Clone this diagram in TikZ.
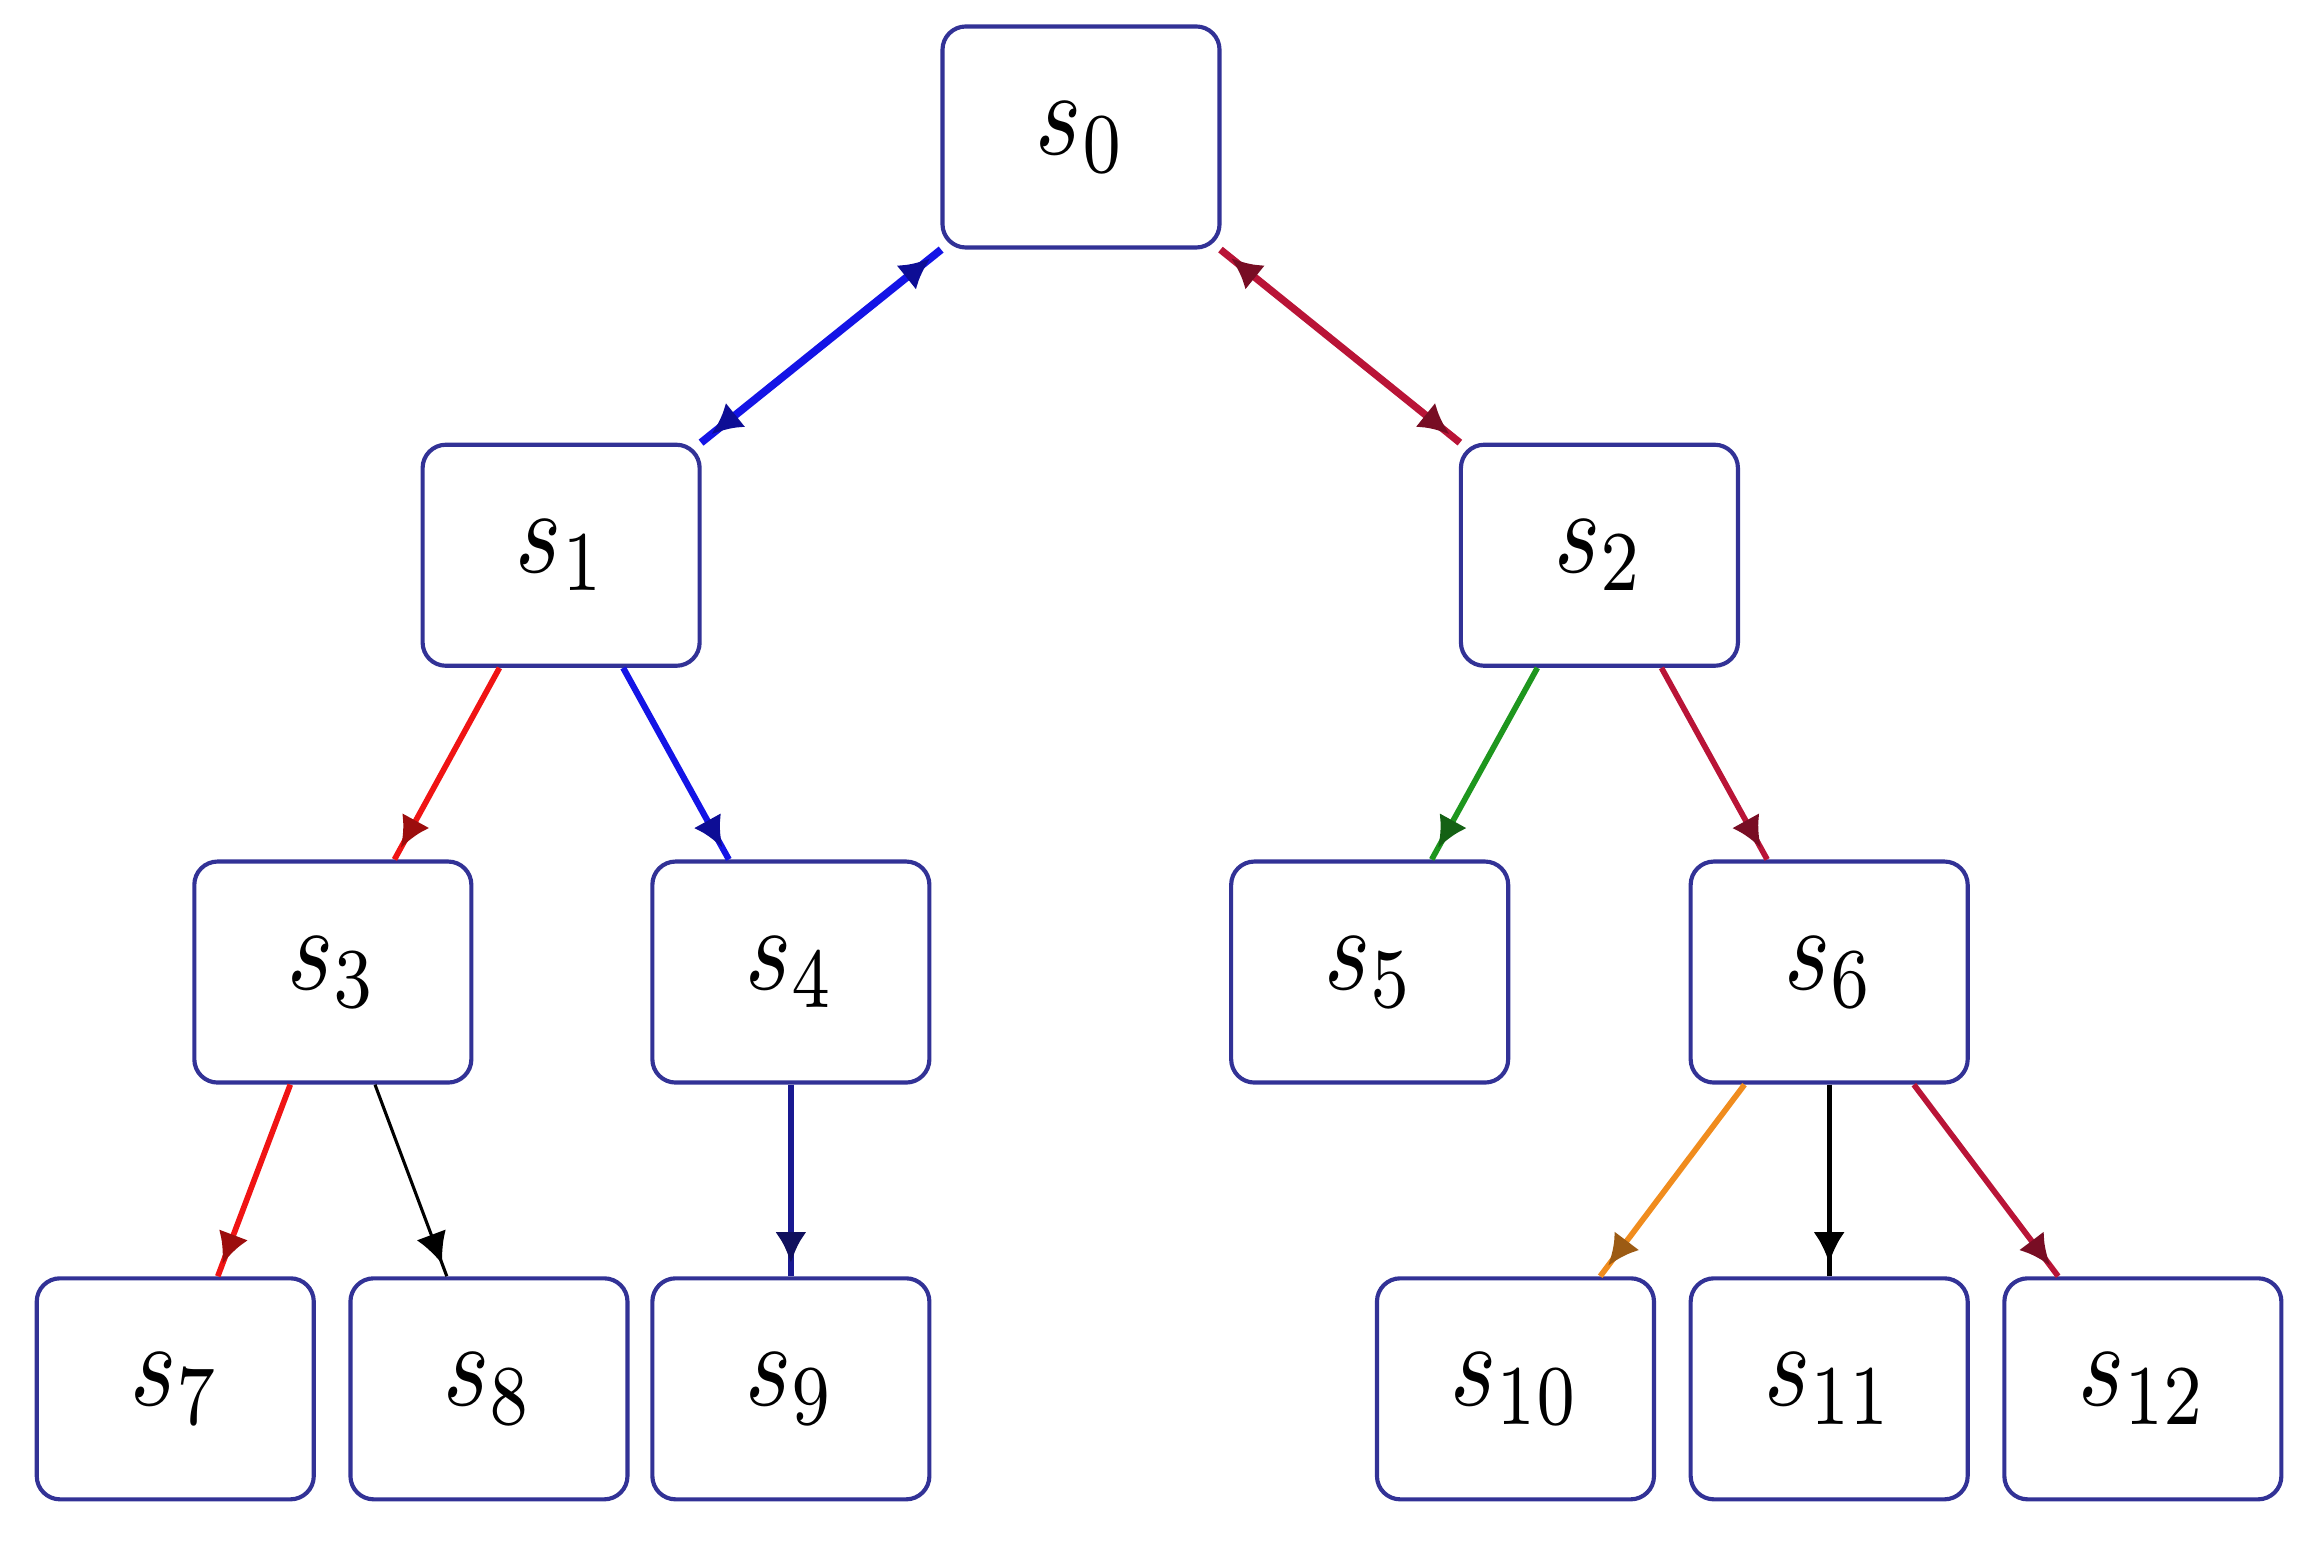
\documentclass[tikz,border=0pt]{standalone}
\usepackage{graphicx}
\usetikzlibrary{arrows.meta,decorations.markings}
\definecolor{boxc}{RGB}{50,50,150}
\definecolor{cblue}{RGB}{20,20,230}
\definecolor{ccrim}{RGB}{185,20,55}
\definecolor{cred}{RGB}{240,20,20}
\definecolor{cgreen}{RGB}{30,150,30}
\definecolor{corange}{RGB}{240,140,30}
\definecolor{cnavy}{RGB}{25,25,145}
\definecolor{cblack}{RGB}{0,0,0}
\newcommand{\stxt}[1]{\scalebox{1.9}[2.35]{$s_{#1}$}}
\tikzset{
  state/.style={draw=boxc, line width=0.8pt, rounded corners=4.5pt,
    minimum width=1.88cm, minimum height=1.50cm, inner sep=0pt,
    fill=white},
  link/.style={draw=#1, line width=1.1pt,
    postaction={decorate, decoration={markings,
      mark=at position -2.5pt with {\arrow{Latex[length=6pt,width=6pt,color=#1!65!black]}}}}},
  blink/.style={link=#1,
    postaction={decorate, decoration={markings,
      mark=at position 2.5pt with {\arrowreversed{Latex[length=6pt,width=6pt,color=#1!65!black]}}}}}
}
\begin{document}
\begin{tikzpicture}[x=0.01cm, y=0.01cm]
\useasboundingbox (0,0) rectangle (1567.8,-1055.9);
\node[state] (s0)  at (734,-93)   {\stxt{0}};
\node[state] (s1)  at (381,-377)  {\stxt{1}};
\node[state] (s2)  at (1086,-377) {\stxt{2}};
\node[state] (s3)  at (226,-660)  {\stxt{3}};
\node[state] (s4)  at (537,-660)  {\stxt{4}};
\node[state] (s5)  at (930,-660)  {\stxt{5}};
\node[state] (s6)  at (1242,-660) {\stxt{6}};
\node[state] (s7)  at (119,-943)  {\stxt{7}};
\node[state] (s8)  at (332,-943)  {\stxt{8}};
\node[state] (s9)  at (537,-943)  {\stxt{9}};
\node[state] (s10) at (1029,-943) {\stxt{10}};
\node[state] (s11) at (1242,-943) {\stxt{11}};
\node[state] (s12) at (1455,-943) {\stxt{12}};

\draw[blink=cblue, line width=1.5pt] (s1) -- (s0);
\draw[blink=ccrim, line width=1.4pt] (s2) -- (s0);
\draw[link=cred] (s1) -- (s3);
\draw[link=cblue, line width=1.2pt] (s1) -- (s4);
\draw[link=cgreen] (s2) -- (s5);
\draw[link=ccrim] (s2) -- (s6);
\draw[link=cred] (s3) -- (s7);
\draw[link=cblack, line width=0.6pt] (s3) -- (s8);
\draw[link=cnavy, line width=1.2pt] (s4) -- (s9);
\draw[link=corange] (s6) -- (s10);
\draw[link=cblack, line width=0.9pt] (s6) -- (s11);
\draw[link=ccrim] (s6) -- (s12);
\end{tikzpicture}
\end{document}
